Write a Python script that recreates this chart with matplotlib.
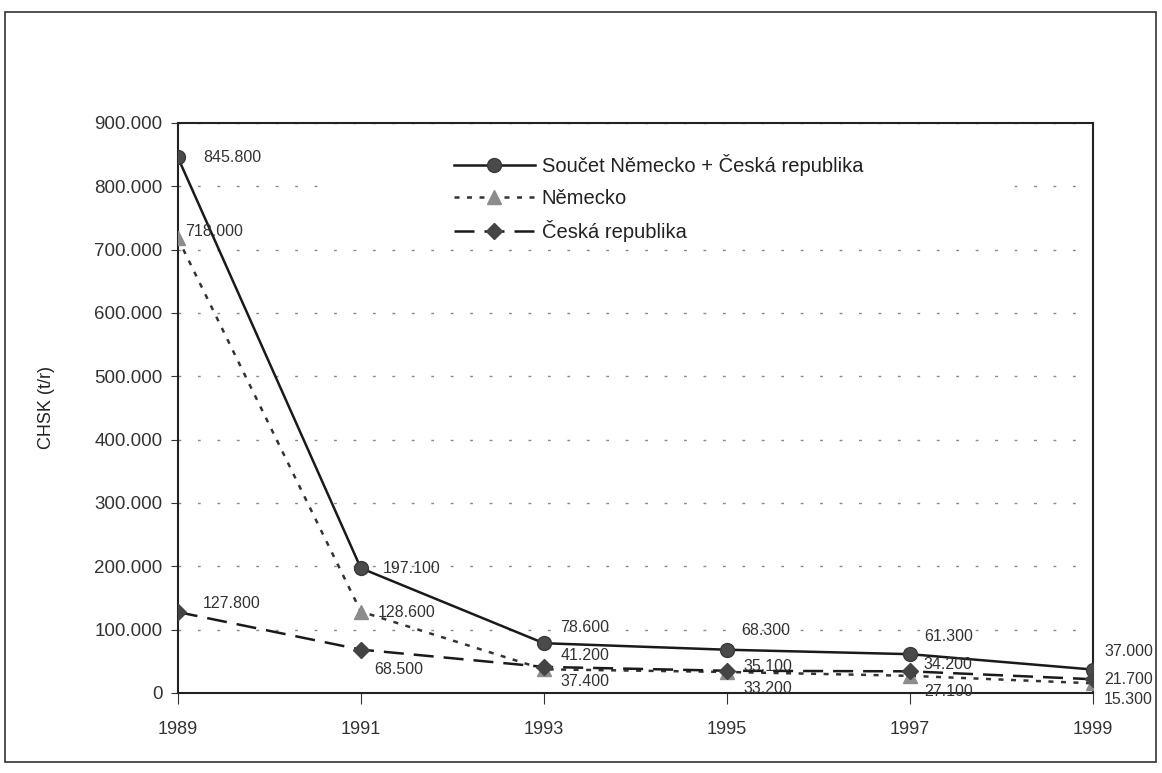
import matplotlib.pyplot as plt
import matplotlib.ticker as mticker
from matplotlib.patches import Rectangle

plt.rcParams['font.family'] = ['Liberation Sans', 'DejaVu Sans']

# Data (t/r)
years = [1989, 1991, 1993, 1995, 1997, 1999]
total = [845800, 197100, 78600, 68300, 61300, 37000]
germany = [718000, 128600, 37400, 33200, 27100, 15300]
czech = [127800, 68500, 41200, 35100, 34200, 21700]

labels = ['Součet Německo + Česká republika', 'Německo', 'Česká republika']


def fmt(v):
    return f"{int(round(v)):,}".replace(',', '.')


fig = plt.figure(figsize=(11.62, 7.73), dpi=100)
ax = fig.add_axes([0.153, 0.1035, 0.7876, 0.7375])

# outer frame of the scanned page
fig.patches.append(Rectangle((0.004, 0.014), 0.991, 0.970, transform=fig.transFigure,
                             fill=False, edgecolor='#333333', linewidth=1.2))

ax.plot(years, total, color='#1a1a1a', lw=1.8, marker='o', ms=10,
        mfc='#4a4a4a', mec='#3a3a3a', label=labels[0], zorder=3)
ax.plot(years, germany, color='#333333', lw=1.8, ls=(0, (2, 3)), marker='^', ms=10,
        mfc='#8c8c8c', mec='#8c8c8c', label=labels[1], zorder=3)
ax.plot(years, czech, color='#1a1a1a', lw=1.8, ls=(0, (8, 4)), marker='D', ms=8,
        mfc='#444444', mec='#444444', label=labels[2], zorder=3)

# value labels (offsets in points)
off_total = [(18, 0), (16, 0), (12, 11), (10, 14), (10, 13), (8, 13)]
off_de = [(5, 5), (12, -1), (12, -9), (12, -12), (10, -11), (8, -12)]
off_cz = [(18, 6), (10, -14), (12, 8), (12, 3), (10, 5), (8, 0)]
for series, offs in [(total, off_total), (germany, off_de), (czech, off_cz)]:
    for x, y, o in zip(years, series, offs):
        ax.annotate(fmt(y), (x, y), xytext=o, textcoords='offset points',
                    ha='left', va='center', fontsize=11.5, color='#333333', zorder=4)

ax.set_xlim(1989, 1999)
ax.set_ylim(0, 900000)
ax.set_xticks(years)
ax.set_yticks(range(0, 900001, 100000))
ax.yaxis.set_major_formatter(mticker.FuncFormatter(lambda v, p: fmt(v)))
ax.tick_params(axis='y', labelsize=13.5, length=5, pad=6, colors='#333333')
ax.tick_params(axis='x', labelsize=13, length=8, pad=12, colors='#333333')
ax.set_ylabel('CHSK (t/r)', fontsize=13, color='#222222', labelpad=28)

ax.set_axisbelow(True)
ax.yaxis.grid(True, color='#888888', lw=1.0, ls=(0, (2, 12)))
for s in ax.spines.values():
    s.set_color('#222222')
    s.set_linewidth(1.5)

# white area behind legend hides the gridlines
ax.add_patch(Rectangle((0.155, 0.78), 0.755, 0.21, transform=ax.transAxes,
                       facecolor='white', edgecolor='none', zorder=1))

leg = ax.legend(loc='upper left', bbox_to_anchor=(0.302, 0.945), frameon=False,
                fontsize=14.5, handlelength=4.0, handletextpad=0.35, labelspacing=0.62,
                numpoints=1, borderaxespad=0, borderpad=0)
for t in leg.get_texts():
    t.set_color('#222222')

fig.savefig('out.png', dpi=100)
